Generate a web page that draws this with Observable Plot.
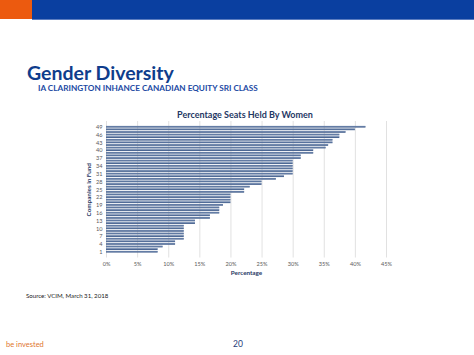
<!DOCTYPE html>
<html>
<head>
<meta charset="utf-8">
<script src="https://cdn.jsdelivr.net/npm/d3@7"></script>
<script src="https://cdn.jsdelivr.net/npm/@observablehq/plot@0.6"></script>
<style>
  html, body { margin: 0; padding: 0; background: #fff; }
  body { width: 474px; height: 355px; position: relative; overflow: hidden; font-family: Lato, "Open Sans", sans-serif; }
  .abs { position: absolute; white-space: nowrap; }
  #orange { left: 0; top: 0; width: 32px; height: 19px; background: #ec5a0f; }
  #blue { left: 32px; top: 0; width: 442px; height: 19px; background: #0a3fa0; border-bottom: 1px solid #5c7dc0; }
  #title { left: 27px; top: 61px; font-size: 19.5px; font-weight: 700; color: #0f3d8c; }
  #subtitle { left: 38px; top: 83px; font-size: 8.2px; font-weight: 700; color: #1c4aa3; }
  #ctitle { left: 0; width: 474px; text-align: center; top: 109px; font-size: 9px; font-weight: 700; color: #1f3864; padding-left: 16px; box-sizing: border-box; }
  #chart { left: 75px; top: 105px; }
  #source { left: 26px; top: 292px; font-size: 6.1px; color: #222; }
  #tagline { left: 6px; top: 340px; font-size: 7.5px; color: #e0762e; }
  #page { left: 233px; top: 339px; font-size: 8.5px; color: #1f3d7a; }
</style>
</head>
<body>
<div class="abs" id="orange"></div>
<div class="abs" id="blue"></div>
<div class="abs" id="title">Gender Diversity</div>
<div class="abs" id="subtitle">IA CLARINGTON INHANCE CANADIAN EQUITY SRI CLASS</div>
<div class="abs" id="ctitle">Percentage Seats Held By Women</div>
<div class="abs" id="chart"></div>
<div class="abs" id="source">Source: VCIM, March 31, 2018</div>
<div class="abs" id="tagline">be invested</div>
<div class="abs" id="page">20</div>
<script>
// Companies 1..49 (bottom to top) and percentage of board seats held by women
const companies = d3.range(1, 50);
const percentages = [
  8.3, 8.3, 9.1, 11.1, 11.1, 12.5, 12.5, 12.5, 12.5, 12.5,
  12.5, 14.3, 14.3, 16.7, 16.7, 18.2, 18.2, 18.2, 18.8, 20.0,
  20.0, 20.0, 20.0, 22.2, 22.2, 23.1, 25.0, 25.0, 27.3, 28.6,
  30.0, 30.0, 30.0, 30.0, 30.0, 30.0, 31.3, 31.3, 33.3, 33.3,
  35.3, 35.7, 36.4, 36.4, 37.5, 37.5, 38.5, 40.0, 41.7
];
const yTickLabels = [1, 4, 7, 10, 13, 16, 19, 22, 25, 28, 31, 34, 37, 40, 43, 46, 49];
const xTickValues = [0, 5, 10, 15, 20, 25, 30, 35, 40, 45];

const data = companies.map((c, i) => ({company: c, pct: percentages[i]}));

const chart = Plot.plot({
  width: 330,
  height: 175,
  marginLeft: 31,
  marginRight: 19,
  marginTop: 20,
  marginBottom: 26.5,
  style: {fontFamily: "Lato, 'Open Sans', sans-serif", fontSize: "5.6px", color: "#595959", background: "transparent"},
  x: {domain: [0, 45], ticks: xTickValues, tickFormat: d => d + "%", tickSize: 0, tickPadding: 8, label: "Percentage", labelAnchor: "center", labelOffset: 21, labelArrow: "none"},
  y: {domain: companies.slice().reverse(), round: false, padding: 0.35, ticks: yTickLabels, tickSize: 0, tickPadding: 4, label: "Companies in Fund", labelAnchor: "center", labelOffset: 20, labelArrow: "none"},
  marks: [
    Plot.ruleX(xTickValues, {stroke: "#d9d9d9", strokeWidth: 0.8, insetTop: -4, insetBottom: -4}),
    Plot.barX(data, {x: "pct", y: "company", fill: "#4a6591"}),
    Plot.barX(data, {x: "pct", y: "company", fill: "#8aa0c4", insetTop: 0.3, insetBottom: 1.0})
  ]
});
d3.select(chart).selectAll("[aria-label='x-axis label'] text, [aria-label='y-axis label'] text")
  .style("font-weight", "700").style("fill", "#1f3864").style("font-size", "6.3px");
document.getElementById("chart").appendChild(chart);
</script>
</body>
</html>
